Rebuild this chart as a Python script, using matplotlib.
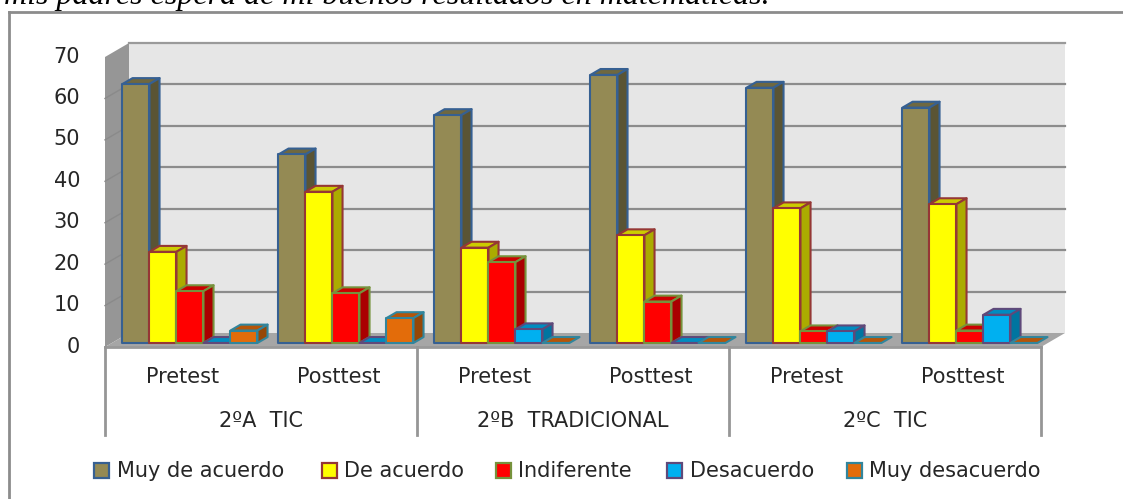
import numpy as np
import matplotlib
matplotlib.use('Agg')
import matplotlib.pyplot as plt
from matplotlib.lines import Line2D
from matplotlib.patches import Polygon, Rectangle

W, H = 1123, 499

tests = ['Pretest', 'Posttest', 'Pretest', 'Posttest', 'Pretest', 'Posttest']
groups = ['2ºA  TIC', '2ºB  TRADICIONAL', '2ºC  TIC']
series = ['Muy de acuerdo', 'De acuerdo', 'Indiferente', 'Desacuerdo', 'Muy desacuerdo']
muy_de_acuerdo = [62.5, 45.5, 55, 64.7, 61.6, 56.8]
de_acuerdo = [22, 36.5, 23, 26, 32.5, 33.5]
indiferente = [12.5, 12, 19.5, 10, 2.8, 3]
desacuerdo = [0, 0, 3.3, 0, 2.8, 6.8]
muy_desacuerdo = [3, 6, 0, 0, 0, 0]
values = [muy_de_acuerdo, de_acuerdo, indiferente, desacuerdo, muy_desacuerdo]

front = ['#948A54', '#FFFF00', '#FF0000', '#00B0F0', '#E36C0A']
top = ['#6F6840', '#CCCC00', '#CC0000', '#008CC0', '#B55508']
side = ['#5A5434', '#ABAB00', '#AA0000', '#0075A0', '#964707']
edges = ['#366092', '#953735', '#76923C', '#5F497A', '#31859C']
text_c = '#262626'
fs = 15

fig = plt.figure(figsize=(W / 100, H / 100), dpi=100)
ax = fig.add_axes([105 / W, 1 - 347 / H, 936 / W, 290 / H])
ax.set_xlim(0, 6)
ax.set_ylim(0, 70)
ax.axis('off')

# one unit of depth on the x and y scales
dx = 24 / 156
dy = 14 / (290 / 70)
bar_w = 27 / 156
gap = (1 - 5 * bar_w) / 2
d0, d1 = 0.29, 0.71


def poly(pts, fc, ec='none', lw=0, z=1):
    ax.add_patch(Polygon(pts, closed=True, fc=fc, ec=ec, lw=lw, zorder=z, clip_on=False, joinstyle='round'))


# walls and floor
poly([(0, 0), (dx, dy), (dx, 70 + dy), (0, 70)], '#969696', z=1)
poly([(dx, dy), (6 + dx, dy), (6 + dx, 70 + dy), (dx, 70 + dy)], '#E6E6E6', z=1)
poly([(0, 0), (6, 0), (6 + dx, dy), (dx, dy)], '#A6A6A6', z=2)
ax.plot([0, 6], [0, 0], color='#999999', lw=2, zorder=2, clip_on=False)
ax.plot([dx, 6 + dx], [70 + dy, 70 + dy], color='#9A9A9A', lw=1.6, zorder=2, clip_on=False)
for v in range(10, 70, 10):
    ax.plot([dx, 6 + dx], [v + dy, v + dy], color='#8C8C8C', lw=1.6, zorder=2, clip_on=False)
    ax.plot([0, dx], [v, v + dy], color='#8A8A8A', lw=1, zorder=2, clip_on=False)
for v in range(0, 80, 10):
    ax.text(-0.16, v + 0.1, str(v), ha='right', va='center', fontsize=fs, color=text_c, clip_on=False)

# bars, back to front left to right
for i in range(6):
    for s in range(5):
        v = values[s][i]
        x0 = i + gap + s * bar_w + d0 * dx
        x1 = x0 + bar_w
        y0 = d0 * dy
        y1 = y0 + v
        off_x = (d1 - d0) * dx
        off_y = (d1 - d0) * dy
        z = 10 + i * 10 + s
        e = edges[s]
        poly([(x0, y1), (x1, y1), (x1 + off_x, y1 + off_y), (x0 + off_x, y1 + off_y)], top[s], e, 1.5, z)
        if v > 0:
            poly([(x1, y0), (x1 + off_x, y0 + off_y), (x1 + off_x, y1 + off_y), (x1, y1)], side[s], e, 1.5, z)
            poly([(x0, y0), (x1, y0), (x1, y1), (x0, y1)], front[s], e, 1.5, z)

# category axis below the plot
y_px = lambda p: -(p - 347) * 70 / 290
for x in [0, 2, 4, 6]:
    ax.plot([x, x], [0, y_px(435)], color='#969696', lw=2, clip_on=False, zorder=2)
for i, t in enumerate(tests):
    ax.text(i + 0.5, y_px(377), t, ha='center', va='center', fontsize=fs, color=text_c, clip_on=False)
for i, g in enumerate(groups):
    ax.text(2 * i + 1, y_px(421), g, ha='center', va='center', fontsize=fs, color=text_c, clip_on=False)

# chart frame (top and left only) and the sentence cut off above it
fig.add_artist(Line2D([8.5 / W, 8.5 / W], [0, 1 - 11.5 / H], transform=fig.transFigure, color='#8C8C8C', lw=2))
fig.add_artist(Line2D([8.5 / W, 1], [1 - 11.5 / H, 1 - 11.5 / H], transform=fig.transFigure, color='#8C8C8C', lw=2))
fig.text(4 / W, 1 - 4 / H, 'mis padres espera de mi buenos resultados en matemáticas.', family='Liberation Serif',
         style='italic', fontsize=23, va='baseline', color='black')

# legend
handles_x = [94, 322, 496, 667, 847]
labels_x = [117, 344, 518, 690, 869]
for s, name in enumerate(series):
    fig.add_artist(Rectangle((handles_x[s] / W, 1 - 478 / H), 15 / W, 15 / H, transform=fig.transFigure,
                             fc=front[s], ec=edges[s], lw=1.6))
    fig.text(labels_x[s] / W, 1 - 471 / H, name, fontsize=fs, va='center', color=text_c)

fig.savefig('out.png', dpi=100)
